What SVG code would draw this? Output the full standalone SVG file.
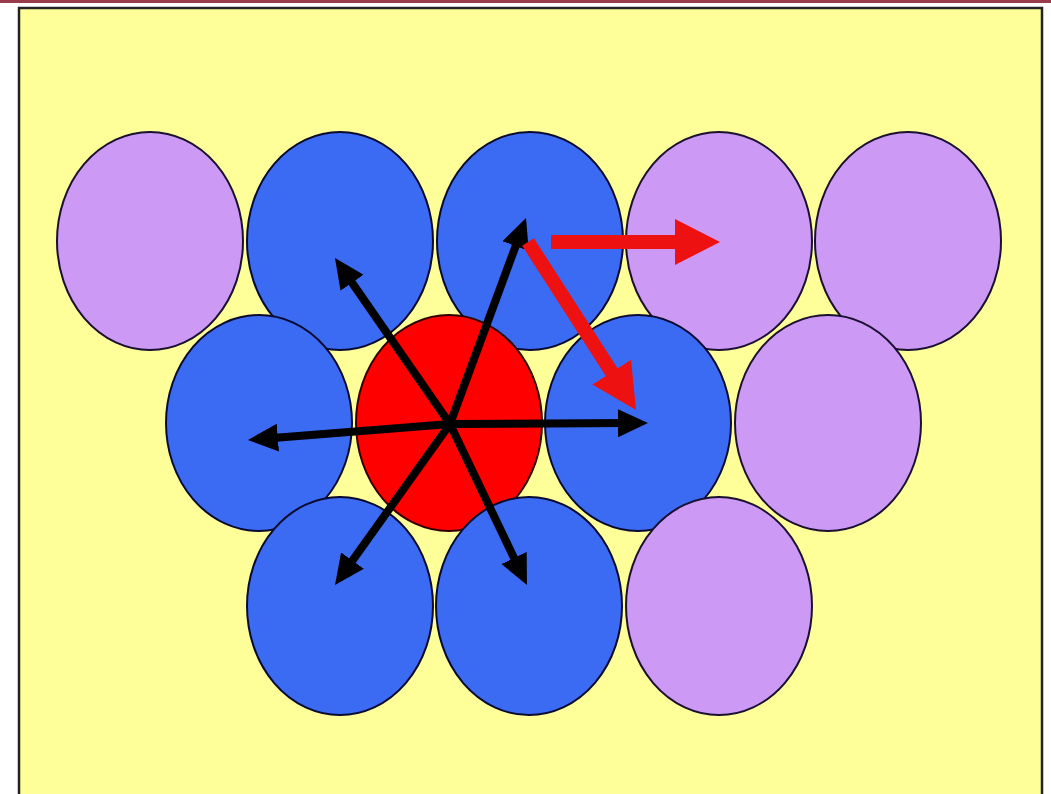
<svg xmlns="http://www.w3.org/2000/svg" width="1051" height="794" viewBox="0 0 1051 794">
<style>
.blue{fill:#3A6BF2;stroke:#0a0a30;stroke-width:2}
.lilac{fill:#CC99F5;stroke:#1a1030;stroke-width:2}
.red{fill:#FF0000;stroke:#300000;stroke-width:2}
.bk{stroke:#000;stroke-width:8;fill:none}
.rd{stroke:#EE1111;stroke-width:14;fill:none}
</style>
<defs>
<marker id="ah" markerUnits="userSpaceOnUse" markerWidth="32" markerHeight="30" refX="8" refY="14" orient="auto">
<path d="M0,0 L30,14 L0,28 z" fill="#000"/>
</marker>
<marker id="rh" markerUnits="userSpaceOnUse" markerWidth="46" markerHeight="48" refX="8" refY="23" orient="auto">
<path d="M0,0 L45,23 L0,46 z" fill="#EE1111"/>
</marker>
</defs>
<rect x="0" y="0" width="1051" height="794" fill="#fff"/>
<rect x="0" y="0" width="1051" height="3" fill="#9a3a4a"/>
<rect id="frame" x="19" y="8" width="1023" height="800" fill="#FFFF99" stroke="#222" stroke-width="2.5"/>
<g id="n1"><ellipse class="lilac" cx="150" cy="241" rx="93" ry="109"/></g>
<g id="n2"><ellipse class="blue" cx="340" cy="241" rx="93" ry="109"/></g>
<g id="n3"><ellipse class="blue" cx="530" cy="241" rx="93" ry="109"/></g>
<g id="n4"><ellipse class="lilac" cx="719" cy="241" rx="93" ry="109"/></g>
<g id="n5"><ellipse class="lilac" cx="908" cy="241" rx="93" ry="109"/></g>
<g id="n6"><ellipse class="blue" cx="259" cy="423" rx="93" ry="108"/></g>
<g id="n7"><ellipse class="red" cx="449" cy="423" rx="93" ry="108"/></g>
<g id="n8"><ellipse class="blue" cx="638" cy="423" rx="93" ry="108"/></g>
<g id="n9"><ellipse class="lilac" cx="828" cy="423" rx="93" ry="108"/></g>
<g id="n10"><ellipse class="blue" cx="340" cy="606" rx="93" ry="109"/></g>
<g id="n11"><ellipse class="blue" cx="529" cy="606" rx="93" ry="109"/></g>
<g id="n12"><ellipse class="lilac" cx="719" cy="606" rx="93" ry="109"/></g>
<g id="connectors">
<line class="bk" x1="450" y1="424" x2="518.4" y2="238.6" marker-end="url(#ah)"/>
<line class="bk" x1="450" y1="424" x2="347.5" y2="276.1" marker-end="url(#ah)"/>
<line class="bk" x1="450" y1="424" x2="269.9" y2="438.3" marker-end="url(#ah)"/>
<line class="bk" x1="450" y1="424" x2="626" y2="423.1" marker-end="url(#ah)"/>
<line class="bk" x1="450" y1="424" x2="347.8" y2="567.1" marker-end="url(#ah)"/>
<line class="bk" x1="450" y1="424" x2="517.5" y2="565.2" marker-end="url(#ah)"/>
<line class="rd" x1="551" y1="242" x2="683" y2="242" marker-end="url(#rh)"/>
<line class="rd" x1="528" y1="242" x2="616" y2="378.9" marker-end="url(#rh)"/>
</g>
</svg>
